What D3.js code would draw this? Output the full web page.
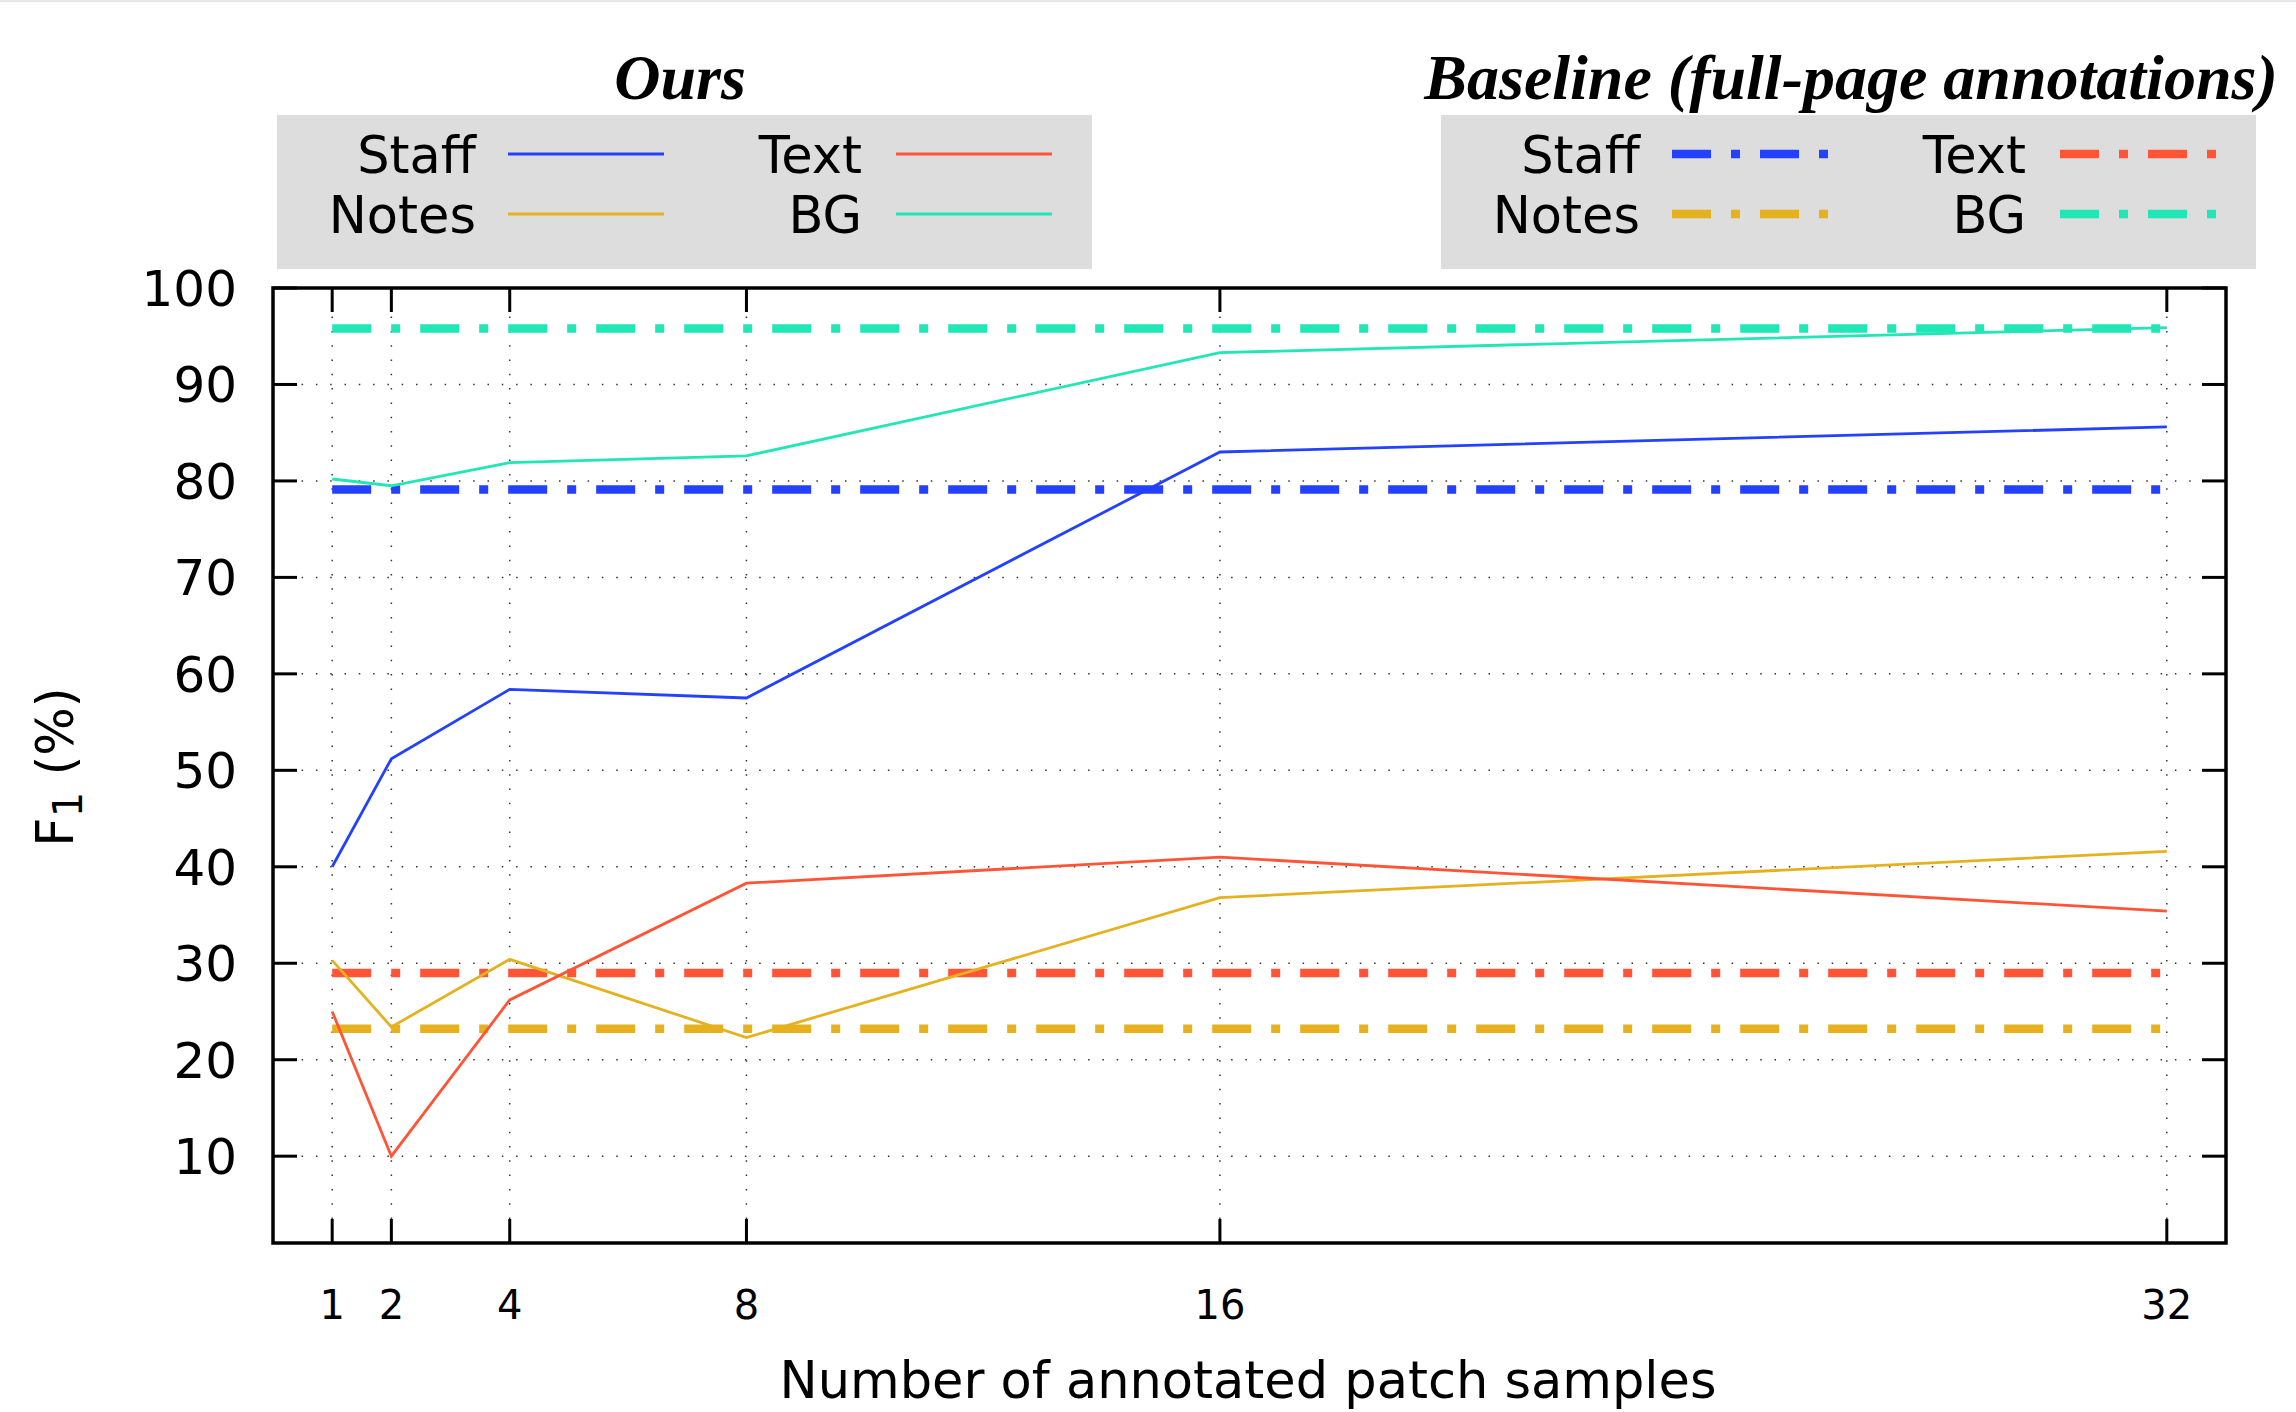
<!DOCTYPE html>
<html>
<head>
<meta charset="utf-8">
<script src="https://cdn.jsdelivr.net/npm/d3@7/dist/d3.min.js"></script>
<style>
  html, body { margin: 0; padding: 0; background: #fff; }
  svg { display: block; }
</style>
</head>
<body>
<script>
// ---- data ----
const samples = [1, 2, 4, 8, 16, 32];
const staffOurs = [40.0, 51.2, 58.4, 57.5, 83.0, 85.6];
const notesOurs = [30.3, 23.4, 30.4, 22.3, 36.8, 41.6];
const textOurs  = [25.0, 10.0, 26.2, 38.3, 41.0, 35.4];
const bgOurs    = [80.2, 79.5, 81.9, 82.6, 93.3, 95.9];
const baselineNames = ["Staff", "Notes", "Text", "BG"];
const baselineValues = [79.1, 23.2, 29.0, 95.8];
const yTicks = [10, 20, 30, 40, 50, 60, 70, 80, 90, 100];
const xTicks = [1, 2, 4, 8, 16, 32];
const seriesNames = ["Staff", "Notes", "Text", "BG"];
const seriesColors = ["#2341ff", "#e6b11f", "#ff5436", "#21e6b5"];

const W = 2296, H = 1412;
const M = { left: 273, right: 2226, top: 288, bottom: 1243 };
const DASH = "39,20,9,20";

const svg = d3.select("body").append("svg").attr("width", W).attr("height", H);
svg.append("rect").attr("width", W).attr("height", H).attr("fill", "#fff");
svg.append("line").attr("x1", 0).attr("x2", W).attr("y1", 1).attr("y2", 1)
  .attr("stroke", "#e3e8ef").attr("stroke-width", 2);

const x = d3.scaleLinear().domain([0, 33]).range([M.left, M.right]);
const y = d3.scaleLinear().domain([1, 100]).range([M.bottom, M.top]);

// grid
const grid = svg.append("g");
yTicks.filter(v => v < 100).forEach(v => {
  grid.append("line").attr("x1", M.left).attr("x2", M.right)
    .attr("y1", y(v)).attr("y2", y(v))
    .attr("stroke", "#333").attr("stroke-width", 1.5).attr("stroke-dasharray", "1.5,12.8");
});
xTicks.forEach(v => {
  grid.append("line").attr("x1", x(v)).attr("x2", x(v))
    .attr("y1", M.top).attr("y2", M.bottom)
    .attr("stroke", "#333").attr("stroke-width", 1.5).attr("stroke-dasharray", "1.5,12.8");
});

// baselines
baselineValues.forEach((v, i) => {
  svg.append("line").attr("x1", x(1)).attr("x2", x(32))
    .attr("y1", y(v)).attr("y2", y(v))
    .attr("stroke", seriesColors[i]).attr("stroke-width", 8.5)
    .attr("stroke-dasharray", DASH);
});

// our lines
const ours = [staffOurs, notesOurs, textOurs, bgOurs];
const line = d3.line().x(d => x(d[0])).y(d => y(d[1]));
ours.forEach((vals, i) => {
  svg.append("path").datum(samples.map((s, j) => [s, vals[j]]))
    .attr("d", line).attr("fill", "none")
    .attr("stroke", seriesColors[i]).attr("stroke-width", 2.8)
    .attr("stroke-linejoin", "miter");
});

// axes: ticks inward on all sides
const axesG = svg.append("g");
const TL = 24;
yTicks.forEach(v => {
  axesG.append("line").attr("x1", M.left).attr("x2", M.left + TL)
    .attr("y1", y(v)).attr("y2", y(v)).attr("stroke", "#000").attr("stroke-width", 3);
  axesG.append("line").attr("x1", M.right).attr("x2", M.right - TL)
    .attr("y1", y(v)).attr("y2", y(v)).attr("stroke", "#000").attr("stroke-width", 3);
  axesG.append("text").attr("x", M.left - 36).attr("y", y(v) + 18)
    .attr("text-anchor", "end").attr("font-family", "DejaVu Sans")
    .attr("font-size", 50).text(v);
});
xTicks.forEach(v => {
  axesG.append("line").attr("x1", x(v)).attr("x2", x(v))
    .attr("y1", M.bottom).attr("y2", M.bottom - TL).attr("stroke", "#000").attr("stroke-width", 3);
  axesG.append("line").attr("x1", x(v)).attr("x2", x(v))
    .attr("y1", M.top).attr("y2", M.top + TL).attr("stroke", "#000").attr("stroke-width", 3);
  axesG.append("text").attr("x", x(v)).attr("y", 1319)
    .attr("text-anchor", "middle").attr("font-family", "DejaVu Sans")
    .attr("font-size", 40).text(v);
});
axesG.append("rect").attr("x", M.left).attr("y", M.top)
  .attr("width", M.right - M.left).attr("height", M.bottom - M.top)
  .attr("fill", "none").attr("stroke", "#000").attr("stroke-width", 3.5);

// axis titles
svg.append("text").attr("x", 1248).attr("y", 1398).attr("text-anchor", "middle")
  .attr("font-family", "DejaVu Sans").attr("font-size", 51)
  .text("Number of annotated patch samples");
const yt = svg.append("text").attr("transform", "translate(73,767) rotate(-90)")
  .attr("text-anchor", "middle").attr("font-family", "DejaVu Sans").attr("font-size", 51);
yt.append("tspan").text("F");
yt.append("tspan").attr("font-size", 40).attr("dy", 9).text("1");
yt.append("tspan").attr("dy", -9).text(" (%)");

// legends
function legend(x0, title, titleX, dashed) {
  svg.append("text").attr("x", titleX).attr("y", 99).attr("text-anchor", "middle")
    .attr("font-family", "Liberation Serif").attr("font-style", "italic")
    .attr("font-weight", "bold").attr("font-size", 64).text(title);
  svg.append("rect").attr("x", x0).attr("y", 115).attr("width", 815).attr("height", 154)
    .attr("fill", "#dddddd");
  seriesNames.forEach((n, i) => {
    const col = Math.floor(i / 2), row = i % 2;
    const order = [0, 1, 2, 3];
    const tx = x0 + (col === 0 ? 199 : 585);
    const lx = x0 + (col === 0 ? 231 : 619);
    const ty = 173 + row * 60;
    const ly = 154 + row * 60;
    // layout: col0 = Staff, Notes ; col1 = Text, BG
    const idx = order[i];
    svg.append("text").attr("x", tx).attr("y", ty).attr("text-anchor", "end")
      .attr("font-family", "DejaVu Sans").attr("font-size", 51).text(seriesNames[idx]);
    const l = svg.append("line").attr("x1", lx).attr("x2", lx + 156)
      .attr("y1", ly).attr("y2", ly).attr("stroke", seriesColors[idx]);
    if (dashed) l.attr("stroke-width", 8.5).attr("stroke-dasharray", DASH);
    else l.attr("stroke-width", 3);
  });
}
legend(277, "Ours", 680, false);
legend(1441, "Baseline (full-page annotations)", 1851, true);
</script>
</body>
</html>
